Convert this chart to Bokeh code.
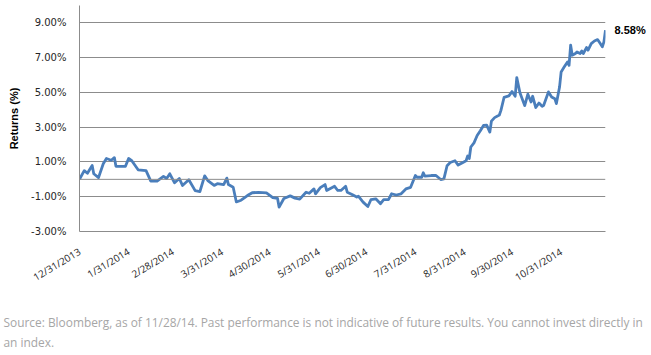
import pandas as pd
from bokeh.plotting import figure
from bokeh.models import (FixedTicker, PrintfTickFormatter, Span, Range1d,
                          LinearAxis, Title)
from bokeh.embed import file_html
from bokeh.resources import INLINE

# ---------------- data ----------------
dates = [
    "2013-12-31", "2014-01-03", "2014-01-05", "2014-01-08", "2014-01-09", "2014-01-12",
    "2014-01-15", "2014-01-17", "2014-01-20", "2014-01-22", "2014-01-23", "2014-01-29",
    "2014-01-31", "2014-02-02", "2014-02-06", "2014-02-11", "2014-02-14", "2014-02-18",
    "2014-02-22", "2014-02-24", "2014-02-26", "2014-03-01", "2014-03-04", "2014-03-06",
    "2014-03-10", "2014-03-14", "2014-03-17", "2014-03-20", "2014-03-22", "2014-03-26",
    "2014-03-28", "2014-04-01", "2014-04-03", "2014-04-04", "2014-04-07", "2014-04-09",
    "2014-04-12", "2014-04-16", "2014-04-19", "2014-04-23", "2014-04-28", "2014-05-02",
    "2014-05-05", "2014-05-06", "2014-05-09", "2014-05-13", "2014-05-16", "2014-05-19",
    "2014-05-23", "2014-05-25", "2014-05-28", "2014-05-29", "2014-06-01", "2014-06-04",
    "2014-06-05", "2014-06-10", "2014-06-12", "2014-06-14", "2014-06-17", "2014-06-18",
    "2014-06-21", "2014-06-24", "2014-06-25", "2014-06-28", "2014-07-01", "2014-07-03",
    "2014-07-06", "2014-07-09", "2014-07-11", "2014-07-14", "2014-07-16", "2014-07-19",
    "2014-07-22", "2014-07-25", "2014-07-28", "2014-07-31", "2014-08-01", "2014-08-04",
    "2014-08-05", "2014-08-06", "2014-08-10", "2014-08-13", "2014-08-16", "2014-08-18",
    "2014-08-20", "2014-08-22", "2014-08-25", "2014-08-27", "2014-08-30", "2014-09-01",
    "2014-09-02", "2014-09-03", "2014-09-04", "2014-09-06", "2014-09-08", "2014-09-10",
    "2014-09-12", "2014-09-14", "2014-09-16", "2014-09-17", "2014-09-19", "2014-09-22",
    "2014-09-23", "2014-09-25", "2014-09-28", "2014-09-30", "2014-10-02", "2014-10-03",
    "2014-10-05", "2014-10-08", "2014-10-10", "2014-10-12", "2014-10-13", "2014-10-15",
    "2014-10-17", "2014-10-19", "2014-10-20", "2014-10-23", "2014-10-25", "2014-10-27",
    "2014-10-28", "2014-10-30", "2014-10-31", "2014-11-02", "2014-11-04", "2014-11-05",
    "2014-11-06", "2014-11-07", "2014-11-09", "2014-11-10", "2014-11-12", "2014-11-13",
    "2014-11-14", "2014-11-16", "2014-11-17", "2014-11-19", "2014-11-21", "2014-11-23",
    "2014-11-25", "2014-11-26", "2014-11-27", "2014-11-28",
]
returns = [
    0.00, 0.50, 0.35, 0.80, 0.32, 0.10,
    0.90, 1.20, 1.10, 1.25, 0.75, 0.75,
    1.20, 1.07, 0.55, 0.50, -0.10, -0.10,
    0.17, 0.05, 0.32, -0.20, 0.05, -0.35,
    -0.02, -0.65, -0.70, 0.20, -0.07, -0.35,
    -0.25, -0.30, 0.07, -0.30, -0.45, -1.30,
    -1.20, -0.93, -0.77, -0.75, -0.78, -1.05,
    -1.10, -1.60, -1.10, -0.95, -1.08, -1.14,
    -0.74, -0.80, -0.55, -0.83, -0.48, -0.30,
    -0.64, -0.40, -0.64, -0.64, -0.40, -0.74,
    -0.87, -1.02, -0.97, -1.31, -1.56, -1.16,
    -1.12, -1.40, -1.17, -1.17, -0.83, -0.90,
    -0.83, -0.55, -0.46, 0.22, 0.12, 0.12,
    0.38, 0.18, 0.22, 0.22, -0.01, 0.03,
    0.78, 0.97, 1.07, 0.82, 0.97, 1.07,
    1.34, 1.20, 1.86, 2.10, 2.52, 2.80,
    3.10, 3.12, 2.72, 3.35, 3.55, 3.70,
    3.97, 4.72, 4.80, 5.05, 4.78, 5.85,
    4.98, 4.24, 4.90, 4.45, 4.78, 4.13,
    4.39, 4.20, 4.26, 5.03, 4.74, 4.64,
    4.36, 5.31, 6.18, 6.47, 6.75, 6.56,
    7.72, 7.14, 7.24, 7.33, 7.24, 7.39,
    7.24, 7.58, 7.43, 7.81, 7.96, 8.04,
    7.77, 7.62, 7.91, 8.58,
]
tick_dates = ["2013-12-31", "2014-01-31", "2014-02-28", "2014-03-31", "2014-04-30",
              "2014-05-31", "2014-06-30", "2014-07-31", "2014-08-31", "2014-09-30",
              "2014-10-31"]
tick_labels = ["12/31/2013", "1/31/2014", "2/28/2014", "3/31/2014", "4/30/2014",
               "5/31/2014", "6/30/2014", "7/31/2014", "8/31/2014", "9/30/2014",
               "10/31/2014"]
y_ticks = [-3, -1, 1, 3, 5, 7, 9]
y_min, y_max = -3, 10
y_title = "Returns (%)"
footnote = [
    "Source: Bloomberg, as of 11/28/14. Past performance is not indicative of future results. You cannot invest directly in",
    "an index.",
]

# ---------------- derived ----------------
start = pd.Timestamp(dates[0])
xs = [(pd.Timestamp(d) - start).days for d in dates]
txs = [(pd.Timestamp(d) - start).days for d in tick_dates]

p = figure(width=651, height=355, output_backend="svg", toolbar_location=None,
           x_range=Range1d(0, xs[-1]), y_range=Range1d(y_min, y_max),
           min_border_left=79, min_border_right=46, min_border_top=5,
           min_border_bottom=5)
p.outline_line_color = None
p.background_fill_color = "white"
p.border_fill_color = "white"

grid_col = "#8c8c8c"
text_col = "#262626"

# y axis
p.yaxis.ticker = FixedTicker(ticks=y_ticks)
p.yaxis.formatter = PrintfTickFormatter(format="%.2f%%")
p.yaxis.major_tick_out = 0
p.yaxis.major_tick_in = 0
p.yaxis.minor_tick_out = 0
p.yaxis.minor_tick_in = 0
p.yaxis.major_label_standoff = 13
p.yaxis.axis_line_color = grid_col
p.yaxis.major_label_text_font = "DejaVu Sans"
p.yaxis.major_label_text_font_size = "10px"
p.yaxis.major_label_text_color = text_col
p.yaxis.axis_label = y_title
p.yaxis.axis_label_text_font = "Liberation Sans"
p.yaxis.axis_label_text_font_style = "bold"
p.yaxis.axis_label_text_font_size = "11px"
p.yaxis.axis_label_text_color = "#000000"
p.yaxis.axis_label_standoff = 8

# x axis
p.xaxis.ticker = FixedTicker(ticks=txs)
p.xaxis.major_label_overrides = {t: lab for t, lab in zip(txs, tick_labels)}
p.xaxis.major_label_orientation = 0.54
p.xaxis.major_tick_out = 0
p.xaxis.major_tick_in = 0
p.xaxis.minor_tick_out = 0
p.xaxis.minor_tick_in = 0
p.xaxis.major_label_standoff = 19
p.xaxis.axis_line_color = grid_col
p.xaxis.major_label_text_font = "Open Sans"
p.xaxis.major_label_text_font_size = "10px"
p.xaxis.major_label_text_color = text_col

# end value label as a right-hand axis with a single tick at the last value
end_axis = LinearAxis(ticker=FixedTicker(ticks=[returns[-1]]),
                      formatter=PrintfTickFormatter(format="%.2f%%"),
                      axis_line_color=None, major_tick_out=0, major_tick_in=0,
                      minor_tick_out=0, minor_tick_in=0, major_label_standoff=9,
                      major_label_text_font="Liberation Sans",
                      major_label_text_font_style="bold",
                      major_label_text_font_size="11px",
                      major_label_text_color="#000000")
p.add_layout(end_axis, "right")

# grids
p.xgrid.visible = False
p.ygrid.ticker = FixedTicker(ticks=y_ticks)
p.ygrid.grid_line_color = grid_col
p.ygrid.grid_line_width = 1

p.add_layout(Span(location=0, dimension="width", line_color=grid_col, line_width=1))

# series
p.line(xs, returns, line_color="#4a7ebb", line_width=2.8, line_join="round")

# ---------------- footnote below the axis ----------------
p.add_layout(Title(text=" ", text_font_size="1px", standoff=16), "below")  # spacer
note_style = dict(align="left", offset=-76, text_font="Open Sans",
                  text_font_size="11.9px", text_font_style="normal",
                  text_color="#a6a6a6")
p.add_layout(Title(text=footnote[0], standoff=0, vertical_align="bottom", **note_style), "below")
p.add_layout(Title(text=footnote[1], standoff=8, vertical_align="top", **note_style), "below")

open("out.html", "w").write(file_html(p, INLINE))
